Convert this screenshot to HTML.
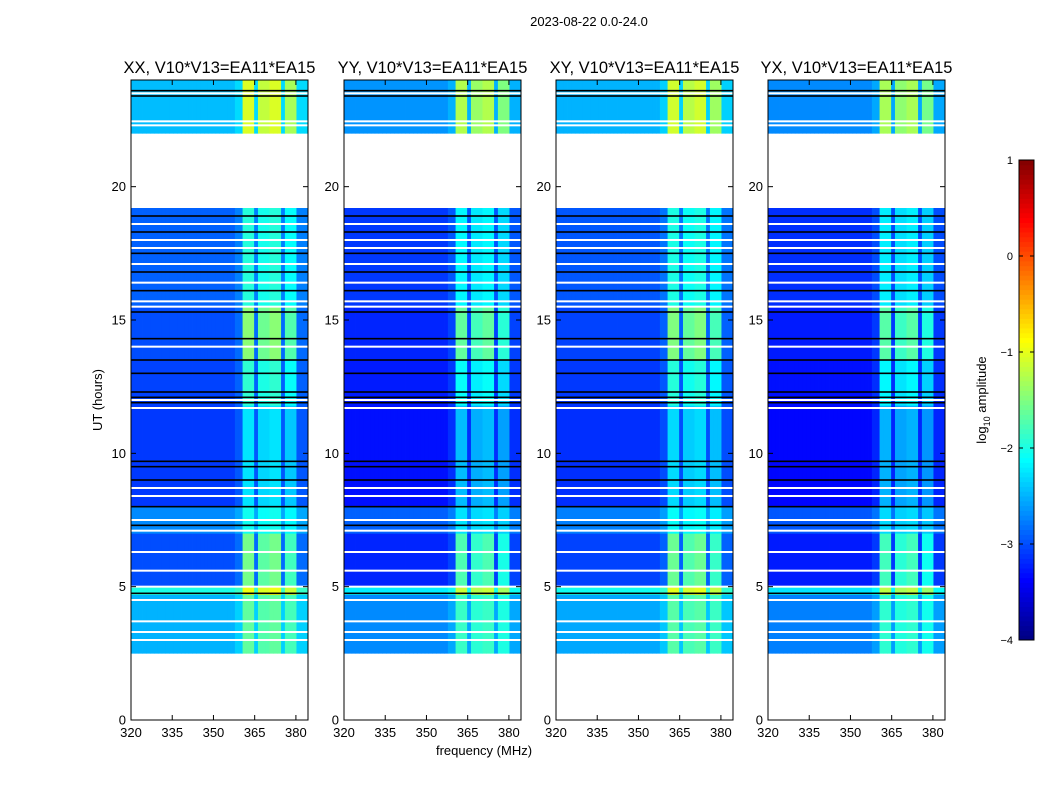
<!DOCTYPE html>
<html><head><meta charset="utf-8"><style>
body{margin:0;background:#fff;font-family:"Liberation Sans",sans-serif}
#wrap{position:relative;width:1050px;height:800px}
svg{position:absolute;left:0;top:0}
</style></head><body>
<div id="wrap">
<svg id="fig" width="1050" height="800" xmlns="http://www.w3.org/2000/svg"></svg>
</div>
<script>
// ---- data ----
const panelTitles = ["XX, V10*V13=EA11*EA15","YY, V10*V13=EA11*EA15","XY, V10*V13=EA11*EA15","YX, V10*V13=EA11*EA15"];
const panelOffsets = [0, -0.2, -0.05, -0.25];
// time blocks: start hour, end hour, base log amplitude, band gain
const blockStart = [2.5, 4.7, 5.0, 7.0, 8.0, 11.8, 13.5, 15.5, 22.0];
const blockEnd   = [4.7, 5.0, 7.0, 8.0, 11.8, 13.5, 15.5, 19.2, 24.0];
const blockLevel = [-2.5, -2.0, -3.0, -2.7, -3.1, -3.05, -3.0, -2.9, -2.45];
const blockGain  = [0.7, 0.9, 1.3, 0.5, 0.7, 1.0, 1.4, 0.8, 1.25];
// frequency bands: start MHz, end MHz, boost
const bandStart = [358, 360.7, 366, 371, 376];
const bandEnd   = [384.4, 365, 370, 375, 380.5];
const bandBoost = [0.15, 1.0, 0.9, 1.0, 0.8];
// flagged rows
const whiteLines = [3.0, 3.3, 3.7, 4.5, 5.0, 5.6, 6.3, 7.1, 7.5, 8.4, 8.7, 11.7, 12.0, 14.0, 15.5, 15.7, 16.4, 17.1, 17.7, 18.0, 18.6, 22.3, 22.45, 23.5];
const blackLines = [4.75, 7.3, 8.0, 9.0, 9.5, 9.7, 11.9, 12.1, 12.3, 13.0, 13.5, 14.3, 15.3, 16.1, 16.8, 17.5, 18.3, 18.9, 23.4, 23.6];
const yTicks = [0, 5, 10, 15, 20];
const xTicks = [320, 335, 350, 365, 380];
const cbTicks = [1, 0, -1, -2, -3, -4];
const cbTickLabels = ["1", "0", "\u22121", "\u22122", "\u22123", "\u22124"];

// ---- layout ----
const panelLeft = [131, 344, 556, 768];
const PW = 177, PT = 80, PB = 720;
const fMin = 320, fMax = 384.4, tMin = 0, tMax = 24;
const svg = document.getElementById('fig');
const NS = "http://www.w3.org/2000/svg";
function mk(tag, attrs, parent) {
  const e = document.createElementNS(NS, tag);
  for (const k in attrs) e.setAttribute(k, attrs[k]);
  (parent || svg).appendChild(e);
  return e;
}
function jet(v) {
  function c(x) { return Math.max(0, Math.min(1, 1.5 - Math.abs(x))); }
  const r = c(4 * v - 3), g = c(4 * v - 2), b = c(4 * v - 1);
  return `rgb(${Math.round(r*255)},${Math.round(g*255)},${Math.round(b*255)})`;
}
function colorOf(val) { return jet((val + 4) / 5); }

const fBins = [];
for (let f = fMin; f < fMax; f += 1.4) fBins.push(f);

panelTitles.forEach((title, p) => {
  const L = panelLeft[p];
  const xs = f => L + (f - fMin) / (fMax - fMin) * PW;
  const ys = t => PB - (t - tMin) / (tMax - tMin) * (PB - PT);
  const g = mk('g', {}, svg);
  
  
  for (let b = 0; b < blockStart.length; b++) {
    for (let i = 0; i < fBins.length; i++) {
      const f0 = fBins[i], f1 = Math.min(fMax, f0 + 1.4), fc = (f0 + f1) / 2;
      let v = blockLevel[b] + panelOffsets[p];
      for (let k = 0; k < bandStart.length; k++) {
        if (fc >= bandStart[k] && fc <= bandEnd[k]) v += bandBoost[k] * (k === 0 ? 1 : blockGain[b]);
      }
      const r = mk('rect', {x: xs(f0), y: ys(blockEnd[b]), width: xs(f1) - xs(f0) + 0.4,
        height: ys(blockStart[b]) - ys(blockEnd[b]) + 0.3, fill: colorOf(v)}, g);
      
      
    }
  }
  blackLines.forEach(t => {
    const r = mk('rect', {x: L, y: ys(t) - 0.8, width: PW, height: 1.6, fill: '#000'}, g);
    
    
  });
  whiteLines.forEach(t => {
    const r = mk('rect', {x: L, y: ys(t) - 1, width: PW, height: 2, fill: '#fff'}, g);
    
    
  });
  const fr = mk('rect', {x: L, y: PT, width: PW, height: PB - PT, fill: 'none', stroke: '#000', 'stroke-width': 1}, g);
  
  
  yTicks.forEach(t => {
    mk('line', {x1: L, x2: L + 5, y1: ys(t), y2: ys(t), stroke: '#000'}, g);
    mk('line', {x1: L + PW, x2: L + PW - 5, y1: ys(t), y2: ys(t), stroke: '#000'}, g);
    const tx = mk('text', {x: L - 5, y: ys(t) + 4.5, 'text-anchor': 'end', 'font-size': 13}, g);
    tx.textContent = t;
    
    
  });
  xTicks.forEach(f => {
    mk('line', {x1: xs(f), x2: xs(f), y1: PB, y2: PB - 5, stroke: '#000'}, g);
    mk('line', {x1: xs(f), x2: xs(f), y1: PT, y2: PT + 5, stroke: '#000'}, g);
    const tx = mk('text', {x: xs(f), y: PB + 17, 'text-anchor': 'middle', 'font-size': 13}, g);
    tx.textContent = f;
    
    
  });
  const tt = mk('text', {x: L + PW / 2, y: 73, 'text-anchor': 'middle', 'font-size': 16.5}, g);
  tt.textContent = title;
  
  
});

let t = mk('text', {x: 589, y: 26, 'text-anchor': 'middle', 'font-size': 13});
t.textContent = "2023-08-22 0.0-24.0";


t = mk('text', {x: 484, y: 755, 'text-anchor': 'middle', 'font-size': 13});
t.textContent = "frequency (MHz)";


t = mk('text', {x: 102, y: 400, 'text-anchor': 'middle', 'font-size': 13, transform: 'rotate(-90 102 400)'});
t.textContent = "UT (hours)";



const cbX = 1019, cbW = 15, cbT = 160, cbB = 640;
const cbs = v => cbB - (v + 4) / 5 * (cbB - cbT);
const cg = mk('g', {});


for (let i = 0; i < 100; i++) {
  const v0 = -4 + i * 0.05;
  mk('rect', {x: cbX, y: cbs(v0 + 0.05), width: cbW, height: cbs(v0) - cbs(v0 + 0.05) + 0.5, fill: colorOf(v0 + 0.025)}, cg);
}
mk('rect', {x: cbX, y: cbT, width: cbW, height: cbB - cbT, fill: 'none', stroke: '#000'}, cg);
cbTicks.forEach((v, i) => {
  mk('line', {x1: cbX, x2: cbX + 4, y1: cbs(v), y2: cbs(v), stroke: '#000'}, cg);
  mk('line', {x1: cbX + cbW, x2: cbX + cbW - 4, y1: cbs(v), y2: cbs(v), stroke: '#000'}, cg);
  const tx = mk('text', {x: 1013, y: cbs(v) + 4, 'text-anchor': 'end', 'font-size': 11}, cg);
  tx.textContent = cbTickLabels[i];
  
  
});
t = mk('text', {x: 986, y: 400, 'text-anchor': 'middle', 'font-size': 13, transform: 'rotate(-90 986 400)'});
t.innerHTML = 'log<tspan font-size="9" dy="4">10</tspan><tspan dy="-4"> amplitude</tspan>';


</script>
</body></html>
